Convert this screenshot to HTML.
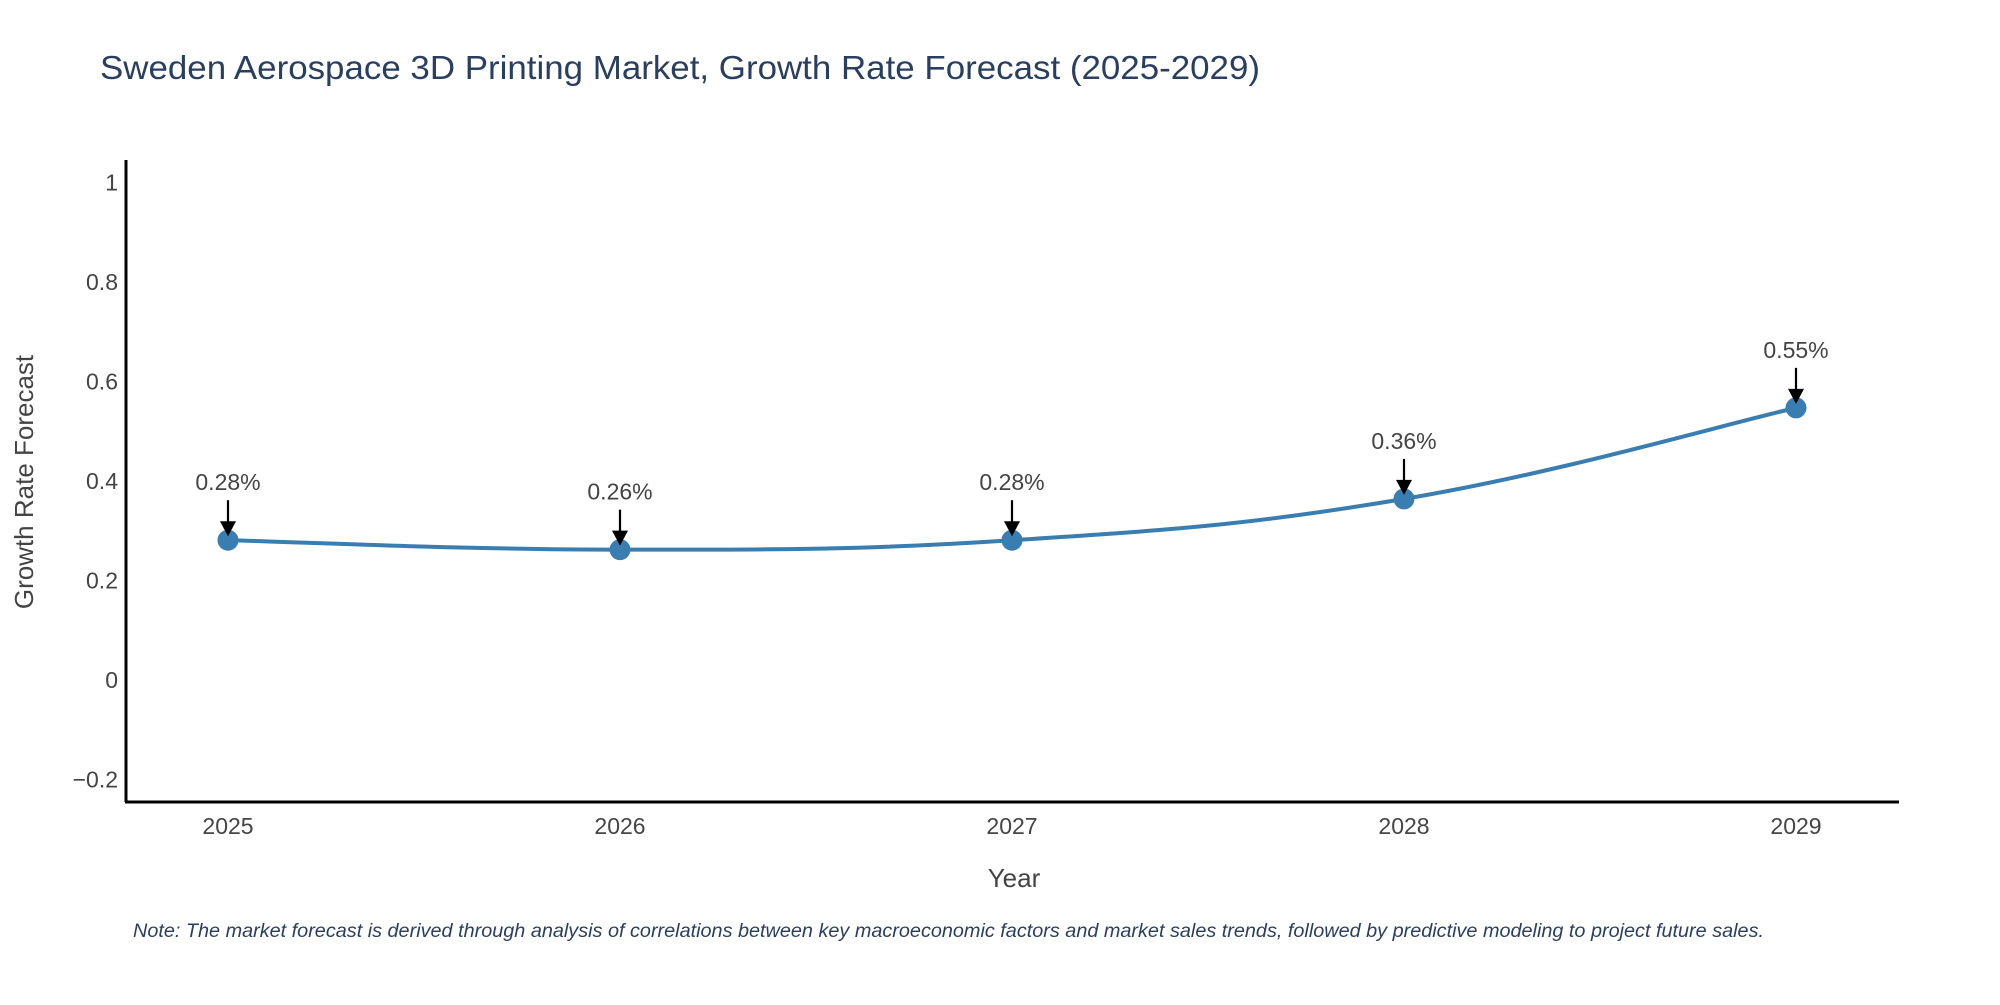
<!DOCTYPE html>
<html><head><meta charset="utf-8"><style>
body{margin:0;background:#fff;}
svg text{font-family:"Liberation Sans",sans-serif;}
</style></head><body>
<svg id="chart" width="2000" height="1000" xmlns="http://www.w3.org/2000/svg">
<text x="100" y="79" font-size="33" fill="#2a3f5f" textLength="1160" lengthAdjust="spacingAndGlyphs">Sweden Aerospace 3D Printing Market, Growth Rate Forecast (2025-2029)</text>
<g id="yticks"></g><g id="xticks"></g>
<line x1="126" y1="160" x2="126" y2="802" stroke="#000" stroke-width="3"/>
<line x1="125" y1="802" x2="1899" y2="802" stroke="#000" stroke-width="3"/>
<path id="line" fill="none" stroke="#3a7db0" stroke-width="4"/>
<g id="points"></g><g id="annots"></g>
<text x="1014" y="887" font-size="26" fill="#444" text-anchor="middle">Year</text>
<text transform="translate(33,482) rotate(-90)" font-size="26" fill="#444" text-anchor="middle">Growth Rate Forecast</text>
<text x="133" y="937" font-size="19" font-style="italic" fill="#2a3f5f" textLength="1631" lengthAdjust="spacingAndGlyphs">Note: The market forecast is derived through analysis of correlations between key macroeconomic factors and market sales trends, followed by predictive modeling to project future sales.</text>
</svg>
<script>
const years=["2025","2026","2027","2028","2029"];
const values=[0.281,0.262,0.281,0.364,0.547];
const labels=["0.28%","0.26%","0.28%","0.36%","0.55%"];
const yTicks=[-0.2,0,0.2,0.4,0.6,0.8,1];
const yTickLabels=["\u22120.2","0","0.2","0.4","0.6","0.8","1"];
const NS="http://www.w3.org/2000/svg";
function x(i){return 228+i*392;}
function y(v){return 680-v*497.5;}
function mk(tag,attrs,parent,txt){const e=document.createElementNS(NS,tag);for(const k in attrs)e.setAttribute(k,attrs[k]);if(txt!==undefined)e.textContent=txt;parent.appendChild(e);return e;}
const yt=document.getElementById('yticks');
yTicks.forEach((t,i)=>{const e=mk('text',{x:118,y:y(t)+8,'font-size':23,fill:'#444','text-anchor':'end'},yt,yTickLabels[i]);

});
const xt=document.getElementById('xticks');
years.forEach((yr,i)=>{const e=mk('text',{x:x(i),y:834,'font-size':23,fill:'#444','text-anchor':'middle'},xt,yr);

});
const pts=values.map((v,i)=>[x(i),y(v)]);
let d='M'+pts[0][0]+','+pts[0][1];
for(let i=0;i<pts.length-1;i++){const p0=pts[Math.max(i-1,0)],p1=pts[i],p2=pts[i+1],p3=pts[Math.min(i+2,pts.length-1)];const t=0.2;
d+=' C'+(p1[0]+(p2[0]-p0[0])*t)+','+(p1[1]+(p2[1]-p0[1])*t)+' '+(p2[0]-(p3[0]-p1[0])*t)+','+(p2[1]-(p3[1]-p1[1])*t)+' '+p2[0]+','+p2[1];}
document.getElementById('line').setAttribute('d',d);
const pg=document.getElementById('points'),ag=document.getElementById('annots');
pts.forEach((p,i)=>{const c=mk('circle',{cx:p[0],cy:p[1],r:10.5,fill:'#3a7db0'},pg);


const l=mk('line',{x1:p[0],y1:p[1]-40,x2:p[0],y2:p[1]-16,stroke:'#000','stroke-width':2.2},ag);


const h=mk('polygon',{points:`${p[0]-8},${p[1]-19} ${p[0]+8},${p[1]-19} ${p[0]},${p[1]-4}`,fill:'#000'},ag);


const t=mk('text',{x:p[0],y:p[1]-50,'font-size':23,fill:'#444','text-anchor':'middle'},ag,labels[i]);

});
</script>
</body></html>
